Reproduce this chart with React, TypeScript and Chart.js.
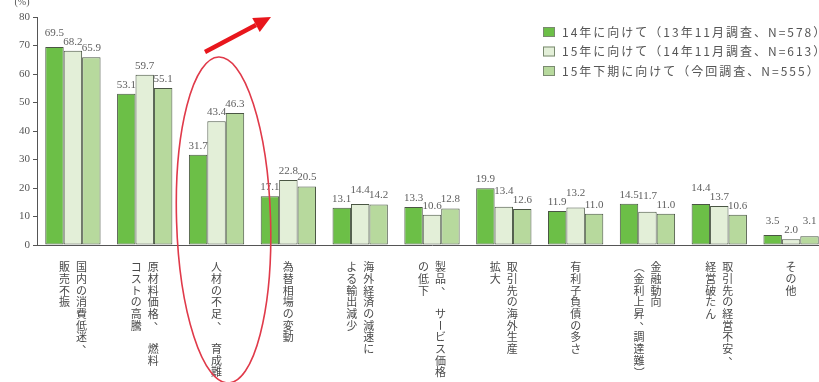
import { useEffect, useRef } from "react";
import { Chart, registerables } from "chart.js";

Chart.register(...registerables);

// Category names, written vertically; each entry lists its columns from right to left.
const categories: string[][] = [
  ["国内の消費低迷、", "販売不振"],
  ["原材料価格、　燃料", "コストの高騰"],
  ["人材の不足、　育成難"],
  ["為替相場の変動"],
  ["海外経済の減速に", "よる輸出減少"],
  ["製品、　サービス価格", "の低下"],
  ["取引先の海外生産", "拡大"],
  ["有利子負債の多さ"],
  ["金融動向", "（金利上昇、調達難）"],
  ["取引先の経営不安、", "経営破たん"],
  ["その他"],
];

const seriesNames = [
  "14年に向けて（13年11月調査、N=578）",
  "15年に向けて（14年11月調査、N=613）",
  "15年下期に向けて（今回調査、N=555）",
];

const values14 = [69.5, 53.1, 31.7, 17.1, 13.1, 13.3, 19.9, 11.9, 14.5, 14.4, 3.5];
const values15 = [68.2, 59.7, 43.4, 22.8, 14.4, 10.6, 13.4, 13.2, 11.7, 13.7, 2.0];
const values15H2 = [65.9, 55.1, 46.3, 20.5, 14.2, 12.8, 12.6, 11.0, 11.0, 10.6, 3.1];

const yMin = 0;
const yMax = 80;
const yStep = 10;
const unitLabel = "(%)";

const seriesColors = ["#6cbf47", "#e3efd8", "#b7d99d"];
const barBorder = "#4a5644";
const textColor = "#555";
const cjkFont = "'Noto Sans CJK JP', 'Noto Sans', sans-serif";
const numFont = "'Liberation Serif', 'DejaVu Serif', serif";

// Draw one character of vertical Japanese text centred at (x, y).
function drawVerticalChar(ctx: CanvasRenderingContext2D, ch: string, x: number, y: number) {
  if (ch === "　") return;
  if (ch === "ー" || ch === "（" || ch === "）") {
    ctx.save();
    ctx.translate(x, y);
    ctx.rotate(Math.PI / 2);
    ctx.fillText(ch, 0, 0);
    ctx.restore();
    return;
  }
  if (ch === "、" || ch === "。") {
    ctx.fillText(ch, x + 6, y - 6);
    return;
  }
  ctx.fillText(ch, x, y);
}

const verticalLabelsPlugin = {
  id: "verticalLabels",
  afterDraw(chart: any) {
    const ctx: CanvasRenderingContext2D = chart.ctx;
    const xScale = chart.scales.x;
    const top = chart.chartArea.bottom + 22;
    const pitch = 11.7;
    const colGap = 17;
    ctx.save();
    ctx.font = `11px ${cjkFont}`;
    ctx.fillStyle = "#4a4a4a";
    ctx.textAlign = "center";
    ctx.textBaseline = "middle";
    categories.forEach((cols, i) => {
      const cx = xScale.getPixelForValue(i);
      const n = cols.length;
      cols.forEach((col, c) => {
        const colX = cx + ((n - 1) * colGap) / 2 - c * colGap;
        Array.from(col).forEach((ch, k) => {
          drawVerticalChar(ctx, ch, colX, top + k * pitch);
        });
      });
    });
    ctx.restore();
  },
};

// Value labels sit above each bar; when two neighbours in a group would collide,
// the taller bar's label is lifted above the other one.
const valueLabelsPlugin = {
  id: "valueLabels",
  afterDatasetsDraw(chart: any) {
    const ctx: CanvasRenderingContext2D = chart.ctx;
    const datasets = chart.data.datasets;
    const metas = datasets.map((_: any, di: number) => chart.getDatasetMeta(di));
    const gap = 9;
    const lift = 9;
    const minDiff = 5;
    ctx.save();
    ctx.font = `11px ${numFont}`;
    ctx.fillStyle = "#5e5e5e";
    ctx.textAlign = "center";
    ctx.textBaseline = "middle";
    const count = chart.data.labels.length;
    for (let i = 0; i < count; i++) {
      const ys: number[] = metas.map((m: any) => m.data[i].y - gap);
      for (let d = 0; d < ys.length - 1; d++) {
        if (Math.abs(ys[d] - ys[d + 1]) < minDiff) {
          const a = datasets[d].data[i];
          const b = datasets[d + 1].data[i];
          if (a >= b) ys[d] = ys[d + 1] - lift;
          else ys[d + 1] = ys[d] - lift;
        }
      }
      metas.forEach((m: any, d: number) => {
        ctx.fillText(Number(datasets[d].data[i]).toFixed(1), m.data[i].x, ys[d]);
      });
    }
    ctx.restore();
  },
};

const legendPlugin = {
  id: "boxLegend",
  afterDraw(chart: any) {
    const ctx: CanvasRenderingContext2D = chart.ctx;
    const x0 = 543;
    const rows = [32, 51.5, 71];
    ctx.save();
    ctx.font = `12px ${cjkFont}`;
    (ctx as any).letterSpacing = "2px";
    ctx.textAlign = "left";
    ctx.textBaseline = "middle";
    seriesNames.forEach((name, i) => {
      const y = rows[i];
      ctx.fillStyle = seriesColors[i];
      ctx.fillRect(x0, y - 5, 12, 10);
      ctx.strokeStyle = "#7a8a70";
      ctx.lineWidth = 1;
      ctx.strokeRect(x0 + 0.5, y - 4.5, 11, 9);
      ctx.fillStyle = textColor;
      ctx.fillText(name, x0 + 19, y);
    });
    ctx.restore();
  },
};

const overlayPlugin = {
  id: "overlay",
  afterDraw(chart: any) {
    const ctx: CanvasRenderingContext2D = chart.ctx;
    const xScale = chart.scales.x;
    ctx.save();
    // unit label
    ctx.font = `10px ${numFont}`;
    ctx.fillStyle = textColor;
    ctx.textAlign = "center";
    ctx.textBaseline = "middle";
    ctx.fillText(unitLabel, 22, 2);

    // red ring around the third category
    const cx = xScale.getPixelForValue(2) + 7;
    ctx.strokeStyle = "#e03a4a";
    ctx.lineWidth = 1.6;
    ctx.beginPath();
    ctx.ellipse(cx, 220, 47, 163, -0.03, 0, Math.PI * 2);
    ctx.stroke();

    // red rising arrow
    const sx = 205, sy = 52, ex = 271, ey = 17;
    const ang = Math.atan2(ey - sy, ex - sx);
    const headLen = 17;
    const headHalf = 8;
    const bx = ex - headLen * Math.cos(ang);
    const by = ey - headLen * Math.sin(ang);
    ctx.strokeStyle = "#e8161c";
    ctx.fillStyle = "#e8161c";
    ctx.lineWidth = 4.5;
    ctx.lineCap = "butt";
    ctx.beginPath();
    ctx.moveTo(sx, sy);
    ctx.lineTo(bx, by);
    ctx.stroke();
    ctx.beginPath();
    ctx.moveTo(ex, ey);
    ctx.lineTo(bx + headHalf * Math.sin(ang), by - headHalf * Math.cos(ang));
    ctx.lineTo(bx - headHalf * Math.sin(ang), by + headHalf * Math.cos(ang));
    ctx.closePath();
    ctx.fill();
    ctx.restore();
  },
};

export default function App() {
  const canvasRef = useRef<HTMLCanvasElement | null>(null);

  useEffect(() => {
    document.body.style.margin = "0";
    const canvas = canvasRef.current;
    if (!canvas) return;
    const labels = categories.map((c) => c.join(""));
    const series = [values14, values15, values15H2];
    const chart = new Chart(canvas, {
      type: "bar",
      data: {
        labels,
        datasets: series.map((data, i) => ({
          label: seriesNames[i],
          data,
          backgroundColor: seriesColors[i],
          borderColor: barBorder,
          borderWidth: 1,
          borderSkipped: false,
          categoryPercentage: 0.77,
          barPercentage: 1,
        })),
      },
      options: {
        responsive: false,
        animation: false,
        events: [],
        layout: { padding: { top: 17, right: 0, bottom: 0, left: 0 } },
        plugins: {
          legend: { display: false },
          tooltip: { enabled: false },
          title: { display: false },
        },
        scales: {
          x: {
            grid: { display: false },
            border: { display: true, color: "#555", width: 1 },
            ticks: { display: false },
            afterFit: (scale: any) => {
              scale.height = 137;
            },
          },
          y: {
            min: yMin,
            max: yMax,
            grid: { display: true, drawOnChartArea: false, drawTicks: true, tickLength: 4, color: "#555" },
            border: { display: true, color: "#555", width: 1 },
            ticks: {
              stepSize: yStep,
              padding: 3,
              color: "#555",
              font: { family: numFont, size: 11 },
            },
            afterFit: (scale: any) => {
              scale.width = 37;
            },
          },
        },
      },
      plugins: [valueLabelsPlugin, verticalLabelsPlugin, legendPlugin, overlayPlugin],
    } as any);
    return () => chart.destroy();
  }, []);

  return (
    <div style={{ width: 819, height: 382, overflow: "hidden", position: "relative", background: "#fff" }}>
      <canvas ref={canvasRef} width={827} height={382} style={{ display: "block" }} />
    </div>
  );
}
